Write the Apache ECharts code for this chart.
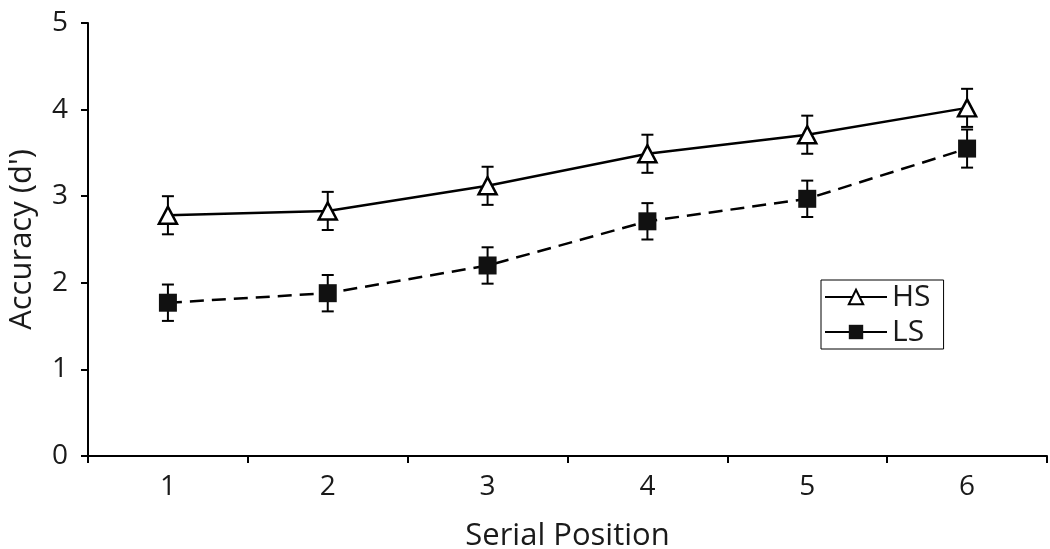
<!DOCTYPE html>
<html><head><meta charset="utf-8">
<script src="https://cdn.jsdelivr.net/npm/echarts@6/dist/echarts.min.js"></script>
<style>html,body{margin:0;padding:0;background:#fff}#c{width:1050px;height:549px}</style>
</head><body><div id="c"></div>
<script>
var categories = ['1','2','3','4','5','6'];
var hsValues = [2.78, 2.83, 3.12, 3.49, 3.71, 4.02];
var hsErr = [0.22, 0.22, 0.22, 0.22, 0.22, 0.22];
var lsValues = [1.77, 1.88, 2.20, 2.71, 2.97, 3.55];
var lsErr = [0.21, 0.21, 0.21, 0.21, 0.21, 0.22];
var yTicks = [0, 1, 2, 3, 4, 5];

var FONT = '"Open Sans", "Noto Sans", sans-serif';
function errData(vals, errs) {
  return vals.map(function (v, i) { return [i, v - errs[i], v + errs[i]]; });
}
function errRender(params, api) {
  var x = api.value(0);
  var lo = api.coord([x, api.value(1)]);
  var hi = api.coord([x, api.value(2)]);
  var hw = 6;
  var st = { stroke: '#000', lineWidth: 2 };
  return { type: 'group', children: [
    { type: 'line', shape: { x1: hi[0], y1: hi[1], x2: lo[0], y2: lo[1] }, style: st },
    { type: 'line', shape: { x1: hi[0] - hw, y1: hi[1], x2: hi[0] + hw, y2: hi[1] }, style: st },
    { type: 'line', shape: { x1: lo[0] - hw, y1: lo[1], x2: lo[0] + hw, y2: lo[1] }, style: st }
  ]};
}
var chart = echarts.init(document.getElementById('c'));
chart.setOption({
  animation: false,
  backgroundColor: '#fff',
  grid: { left: 88, right: 3, top: 23, bottom: 93, containLabel: false, outerBoundsMode: 'none' },
  xAxis: {
    type: 'category', data: categories, boundaryGap: true,
    name: 'Serial Position', nameLocation: 'middle', nameGap: 65,
    nameTextStyle: { fontFamily: FONT, fontSize: 31, color: '#1a1a1a' },
    axisLine: { lineStyle: { color: '#000', width: 2 } },
    axisTick: { show: true, length: 7, lineStyle: { color: '#000', width: 2 } },
    axisLabel: { fontFamily: FONT, fontSize: 28, color: '#1a1a1a', margin: 17 },
    splitLine: { show: false }
  },
  yAxis: {
    type: 'value', min: yTicks[0], max: yTicks[yTicks.length - 1], interval: 1,
    name: "Accuracy (d')", nameLocation: 'middle', nameGap: 50,
    nameTextStyle: { fontFamily: FONT, fontSize: 31, color: '#1a1a1a' },
    axisLine: { show: true, lineStyle: { color: '#000', width: 2 } },
    axisTick: { show: true, length: 7, lineStyle: { color: '#000', width: 2 } },
    axisLabel: { fontFamily: FONT, fontSize: 28, color: '#1a1a1a', margin: 20 },
    splitLine: { show: false }
  },
  legend: {
    data: ['HS', 'LS'], orient: 'vertical', left: 821, top: 280,
    itemWidth: 62, itemHeight: 18, itemGap: 5,
    borderColor: '#000', borderWidth: 1, borderRadius: 0,
    padding: [2, 13, 2, 3],
    textStyle: { fontFamily: FONT, fontSize: 30, color: '#1a1a1a' },
    lineStyle: { type: 'solid' }
  },
  series: [
    { name: 'errHS', type: 'custom', renderItem: errRender, data: errData(hsValues, hsErr), z: 1 },
    { name: 'errLS', type: 'custom', renderItem: errRender, data: errData(lsValues, lsErr), z: 1 },
    { name: 'HS', type: 'line', data: hsValues, symbol: 'triangle', symbolSize: [18, 17],
      itemStyle: { color: '#fff', borderColor: '#000', borderWidth: 2.5 },
      lineStyle: { color: '#000', width: 2.5, type: 'solid' }, z: 3 },
    { name: 'LS', type: 'line', data: lsValues, symbol: 'rect', symbolSize: 18,
      itemStyle: { color: '#111', borderColor: '#111', borderWidth: 0 },
      lineStyle: { color: '#000', width: 2.5, type: [14, 8] }, z: 3 }
  ]
});
</script></body></html>
